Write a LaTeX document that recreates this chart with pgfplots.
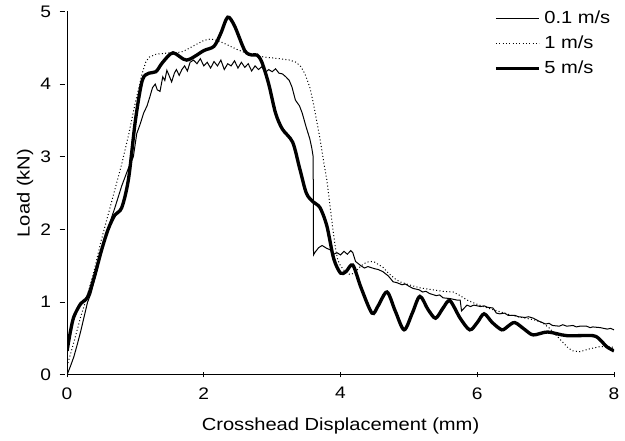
\documentclass[border=0pt]{standalone}
\usepackage{fontspec}
\setmainfont{Liberation Sans}[FakeStretch=1.15]
\usepackage{pgfplots}
\pgfplotsset{compat=1.18}
\begin{document}
\begin{tikzpicture}
\begin{axis}[
    scale only axis, width=328pt, height=218pt,
    xmin=0, xmax=8, ymin=0, ymax=5,
    xtick={0,2,4,6,8}, ytick={0,1,2,3,4,5},
    axis x line=bottom, axis y line=left,
    axis line style={-, line width=0.6pt},
    major tick length=3pt,
    y tick style={xshift=-3pt},
    tick style={black, line width=0.6pt},
    /pgf/number format/assume math mode=true,
    tick label style={font=\fontsize{10}{12}\selectfont},
    xticklabel style={yshift=-2.5pt},
    yticklabel style={xshift=-4.5pt},
    label style={font=\fontsize{10.5}{13}\selectfont},
    xlabel={Crosshead Displacement (mm)},
    ylabel={Load (kN)},
    xlabel style={yshift=-4.5pt},
    ylabel style={yshift=-2.5pt},
    legend style={draw=none, fill=none, at={(1.0,1.012)}, anchor=north east,
        font=\fontsize{10.5}{13}\selectfont, row sep=2pt,
        legend cell align=left, inner sep=0pt},
    legend image code/.code={\draw[#1] (0pt,0pt) -- (26pt,0pt);},
]
\coordinate (LL) at (rel axis cs:0,0);
\coordinate (UR) at (rel axis cs:1,1);
\addplot[black, line width=0.6pt] coordinates {
(0,0) (0.05,0.12) (0.1,0.25) (0.15,0.42) (0.2,0.6) (0.25,0.8) (0.3,1.0) (0.35,1.12)
(0.4,1.3) (0.5,1.68) (0.6,2.02) (0.7,2.3) (0.8,2.6) (0.9,2.85) (0.97,3.0) (1.02,3.32)
(1.07,3.45) (1.12,3.6) (1.17,3.7) (1.21,3.82) (1.25,3.95) (1.29,4.0) (1.32,3.92)
(1.36,3.9) (1.40,4.1) (1.43,4.05) (1.46,4.19) (1.50,4.1) (1.53,4.03) (1.57,4.15)
(1.60,4.2) (1.64,4.12) (1.68,4.2) (1.72,4.25) (1.76,4.18) (1.80,4.3) (1.85,4.33)
(1.9,4.28) (1.95,4.35) (2.0,4.25) (2.05,4.3) (2.1,4.22) (2.15,4.31) (2.2,4.25)
(2.25,4.33) (2.3,4.2) (2.35,4.28) (2.4,4.25) (2.45,4.32) (2.5,4.22) (2.55,4.3)
(2.6,4.23) (2.65,4.28) (2.7,4.18) (2.75,4.25) (2.8,4.2) (2.85,4.24) (2.9,4.16)
(2.95,4.2) (3.0,4.17) (3.05,4.21) (3.1,4.15) (3.15,4.14) (3.2,4.1) (3.25,4.05)
(3.29,3.96) (3.34,3.78) (3.4,3.7) (3.44,3.6) (3.5,3.4) (3.55,3.25) (3.58,3.12)
(3.6,3.0) (3.605,1.65) (3.63,1.69) (3.68,1.75) (3.73,1.78) (3.8,1.74) (3.85,1.72)
(3.9,1.66) (3.95,1.68) (4.0,1.65) (4.05,1.7) (4.1,1.66) (4.15,1.71) (4.18,1.68)
(4.22,1.56) (4.3,1.5) (4.35,1.47) (4.4,1.49) (4.5,1.46) (4.55,1.45) (4.62,1.42)
(4.7,1.36) (4.77,1.28) (4.82,1.27) (4.9,1.24) (4.95,1.25) (5.0,1.22) (5.06,1.19)
(5.15,1.17) (5.2,1.14) (5.25,1.15) (5.3,1.12) (5.4,1.09) (5.45,1.1) (5.5,1.06)
(5.6,1.05) (5.7,1.03) (5.75,1.03) (5.77,0.88) (5.85,0.96) (5.9,0.94) (5.95,0.96)
(6.05,0.94) (6.1,0.95) (6.15,0.93) (6.23,0.92) (6.28,0.85) (6.33,0.84) (6.4,0.85)
(6.45,0.82) (6.55,0.82) (6.6,0.8) (6.7,0.79) (6.75,0.8) (6.82,0.78) (6.9,0.74)
(7.0,0.7) (7.05,0.71) (7.1,0.68) (7.2,0.67) (7.25,0.69) (7.31,0.67) (7.4,0.68)
(7.45,0.66) (7.5,0.67) (7.6,0.67) (7.65,0.65) (7.69,0.66) (7.8,0.65) (7.85,0.64)
(7.9,0.63) (7.95,0.64) (8.0,0.62)};
\addlegendentry{0.1 m/s}
\addplot[black, line width=0.6pt, dash pattern=on 0.6pt off 1.4pt] coordinates {
(0,0.12) (0.1,0.45) (0.2,0.8) (0.3,1.1) (0.4,1.45) (0.5,1.85) (0.6,2.2) (0.7,2.55)
(0.8,2.9) (0.9,3.3) (1.0,3.75) (1.05,3.95) (1.1,4.15) (1.15,4.3) (1.2,4.37)
(1.3,4.41) (1.4,4.42) (1.5,4.43) (1.6,4.43) (1.7,4.45) (1.8,4.5) (1.9,4.55)
(2.0,4.6) (2.1,4.62) (2.2,4.6) (2.3,4.56) (2.5,4.47) (2.7,4.4) (2.9,4.37)
(3.1,4.35) (3.26,4.33) (3.35,4.3) (3.42,4.24) (3.48,4.14) (3.55,3.96) (3.6,3.75)
(3.65,3.5) (3.7,3.25) (3.75,2.95) (3.8,2.68) (3.85,2.3) (3.89,1.99) (3.93,1.72)
(3.96,1.58) (4.0,1.5) (4.05,1.44) (4.1,1.4) (4.14,1.38) (4.2,1.4) (4.3,1.5)
(4.38,1.55) (4.45,1.56) (4.5,1.55) (4.62,1.48) (4.7,1.4) (4.8,1.32) (4.87,1.28)
(5.0,1.24) (5.15,1.2) (5.35,1.17) (5.5,1.15) (5.65,1.14) (5.75,1.09) (5.85,1.03)
(6.0,0.97) (6.15,0.92) (6.33,0.87) (6.5,0.82) (6.65,0.79) (6.82,0.76) (6.95,0.72)
(7.06,0.64) (7.15,0.55) (7.26,0.44) (7.33,0.37) (7.4,0.33) (7.5,0.32) (7.65,0.36)
(7.8,0.39) (7.9,0.39) (8.0,0.38)};
\addlegendentry{1 m/s}
\addplot[black, line width=2pt, smooth, tension=0.5] coordinates {
(0,0.33) (0.05,0.6) (0.1,0.8) (0.2,0.98) (0.3,1.07) (0.4,1.35) (0.5,1.7) (0.6,2.0)
(0.7,2.2) (0.8,2.3) (0.9,2.7) (1.0,3.5) (1.1,4.05) (1.2,4.15) (1.3,4.17) (1.4,4.3)
(1.55,4.43) (1.75,4.33) (2.0,4.46) (2.15,4.52) (2.25,4.7) (2.35,4.92) (2.45,4.8)
(2.6,4.46) (2.7,4.4) (2.78,4.4) (2.85,4.3) (2.95,4.0) (3.05,3.6) (3.15,3.38)
(3.3,3.2) (3.4,2.85) (3.5,2.5) (3.6,2.38) (3.7,2.3) (3.8,2.05) (3.9,1.6) (4.0,1.4)
(4.08,1.42) (4.18,1.51) (4.3,1.2) (4.46,0.85) (4.55,0.95) (4.68,1.14) (4.8,0.88)
(4.93,0.62) (5.05,0.85) (5.16,1.08) (5.28,0.9) (5.39,0.78) (5.5,0.92) (5.6,1.02)
(5.75,0.78) (5.89,0.62) (6.0,0.72) (6.1,0.84) (6.22,0.72) (6.36,0.62) (6.45,0.67)
(6.55,0.72) (6.7,0.62) (6.82,0.55) (7.03,0.59) (7.31,0.54) (7.69,0.54) (7.8,0.48)
(7.89,0.39) (8.0,0.33)};
\addlegendentry{5 m/s}
\end{axis}
\path (LL) ++(-40.2pt,-39pt);
\path (UR) ++(6.6pt,6.6pt);
\end{tikzpicture}
\end{document}
